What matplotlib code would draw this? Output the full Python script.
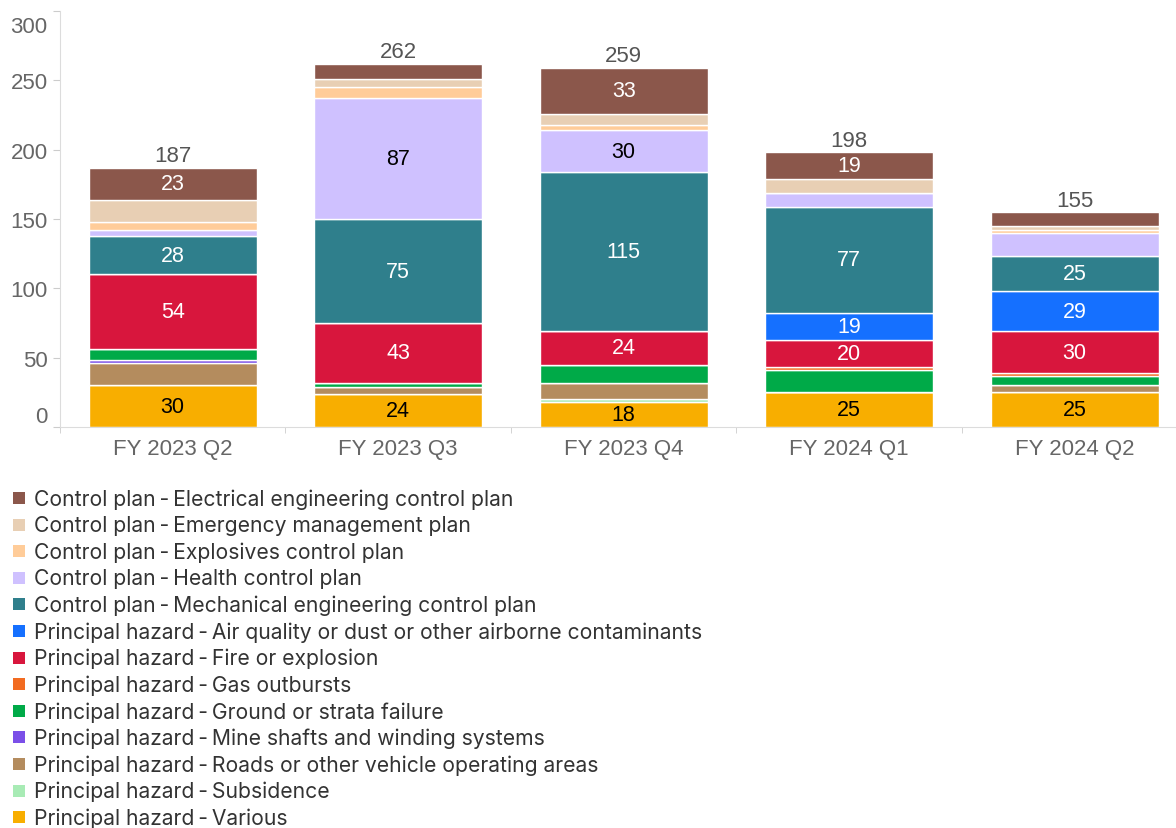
import matplotlib
matplotlib.use("Agg")
import matplotlib.pyplot as plt
from matplotlib.patches import Rectangle
from matplotlib.transforms import ScaledTranslation
import numpy as np

# Quarterly reporting periods
categories = ["FY 2023 Q2", "FY 2023 Q3", "FY 2023 Q4", "FY 2024 Q1", "FY 2024 Q2"]

# Incident counts per category (top of legend first)
electrical = [23, 11, 33, 19, 10]
emergency = [16, 6, 8, 10, 3]
explosives = [6, 8, 4, 0, 2]
health = [4, 87, 30, 10, 17]
mechanical = [28, 75, 115, 77, 25]
air_quality = [0, 0, 0, 19, 29]
fire = [54, 43, 24, 20, 30]
gas = [0, 0, 0, 2, 2]
ground = [8, 3, 13, 16, 7]
mine_shafts = [2, 0, 0, 0, 0]
roads = [16, 5, 12, 0, 5]
subsidence = [0, 0, 2, 0, 0]
various = [30, 24, 18, 25, 25]

SEP = "\u2009-\u2009"
series_names = [
    "Control plan" + SEP + "Electrical engineering control plan",
    "Control plan" + SEP + "Emergency management plan",
    "Control plan" + SEP + "Explosives control plan",
    "Control plan" + SEP + "Health control plan",
    "Control plan" + SEP + "Mechanical engineering control plan",
    "Principal hazard" + SEP + "Air quality or dust or other airborne contaminants",
    "Principal hazard" + SEP + "Fire or explosion",
    "Principal hazard" + SEP + "Gas outbursts",
    "Principal hazard" + SEP + "Ground or strata failure",
    "Principal hazard" + SEP + "Mine shafts and winding systems",
    "Principal hazard" + SEP + "Roads or other vehicle operating areas",
    "Principal hazard" + SEP + "Subsidence",
    "Principal hazard" + SEP + "Various",
]
series_values = [electrical, emergency, explosives, health, mechanical,
                 air_quality, fire, gas, ground, mine_shafts, roads,
                 subsidence, various]
colors = ["#8b574b", "#e8cfb4", "#ffcc99", "#cfc1ff", "#2f7f8c",
          "#1570ff", "#d8163d", "#f26b21", "#00aa48", "#7b4fe8",
          "#b48c5e", "#a8ebb5", "#f8ae00"]
label_colors = ["white", "black", "black", "black", "white",
                "white", "white", "white", "white", "white",
                "black", "black", "black"]

NUM_FONT = ["Liberation Sans", "DejaVu Sans"]
LEG_FONT = ["Inter", "DejaVu Sans"]

W, H = 1176, 829
fig = plt.figure(figsize=(W / 100, H / 100), dpi=100)
ax = fig.add_axes([60 / W, (H - 428) / H, (W - 60) / W, (428 - 12) / H])

x = np.arange(len(categories))
bar_w = 0.745
bottom = np.zeros(len(categories))
# stack from the bottom of the legend upward
for name, vals, col, lc in reversed(list(zip(series_names, series_values, colors, label_colors))):
    vals = np.array(vals, dtype=float)
    ax.bar(x, vals, bar_w, bottom=bottom, color=col, edgecolor="white",
           linewidth=1.0, zorder=2)
    for xi, v, b in zip(x, vals, bottom):
        if v >= 18:
            ax.text(xi, b + v / 2, f"{int(v)}", ha="center", va="center",
                    fontsize=15.5, color=lc, family=NUM_FONT, zorder=3)
    bottom += vals

for xi, tot in zip(x, bottom):
    ax.annotate(f"{int(tot)}", (xi, tot), xytext=(0, 1.0), textcoords="offset points",
                ha="center", va="bottom", fontsize=16, color="#555555",
                family=NUM_FONT)

ax.set_xlim(-0.5, 4.45)
ax.set_ylim(0, 300)

for side in ["top", "right"]:
    ax.spines[side].set_visible(False)
ax.spines["left"].set_color("#dcdcdc")
ax.spines["bottom"].set_color("#dcdcdc")

ax.set_xticks(x)
ax.set_xticklabels(categories, fontsize=16, color="#666666", family=NUM_FONT)
ax.set_xticks(np.arange(-0.5, 4.5, 1.0), minor=True)
ax.tick_params(axis="x", which="major", length=0, pad=8)
ax.tick_params(axis="x", which="minor", length=4, color="#cccccc")

yticks = [0, 50, 100, 150, 200, 250, 300]
ax.set_yticks(yticks)
ax.set_yticklabels([str(t) for t in yticks], fontsize=16, color="#666666",
                   family=NUM_FONT)
ax.tick_params(axis="y", length=5, color="#cccccc", pad=4)
for lbl, t in zip(ax.get_yticklabels(), yticks):
    if t == 300:
        lbl.set_va("top")
        lbl.set_transform(lbl.get_transform()
                          + ScaledTranslation(0, -0.05, fig.dpi_scale_trans))
    elif t == 0:
        lbl.set_va("bottom")

# legend, one row per series
row0, step = 499, 26.6
sq = 12
for i, (name, col) in enumerate(zip(series_names, colors)):
    yc = row0 + step * i
    fig.patches.append(Rectangle((13 / W, (H - yc - sq / 2) / H), sq / W, sq / H,
                                 transform=fig.transFigure, facecolor=col,
                                 edgecolor="none"))
    fig.text(34 / W, (H - yc - 0.5) / H, name, fontsize=15.2, color="#333333",
             family=LEG_FONT, va="center", ha="left")

fig.savefig("out.png", dpi=100)
